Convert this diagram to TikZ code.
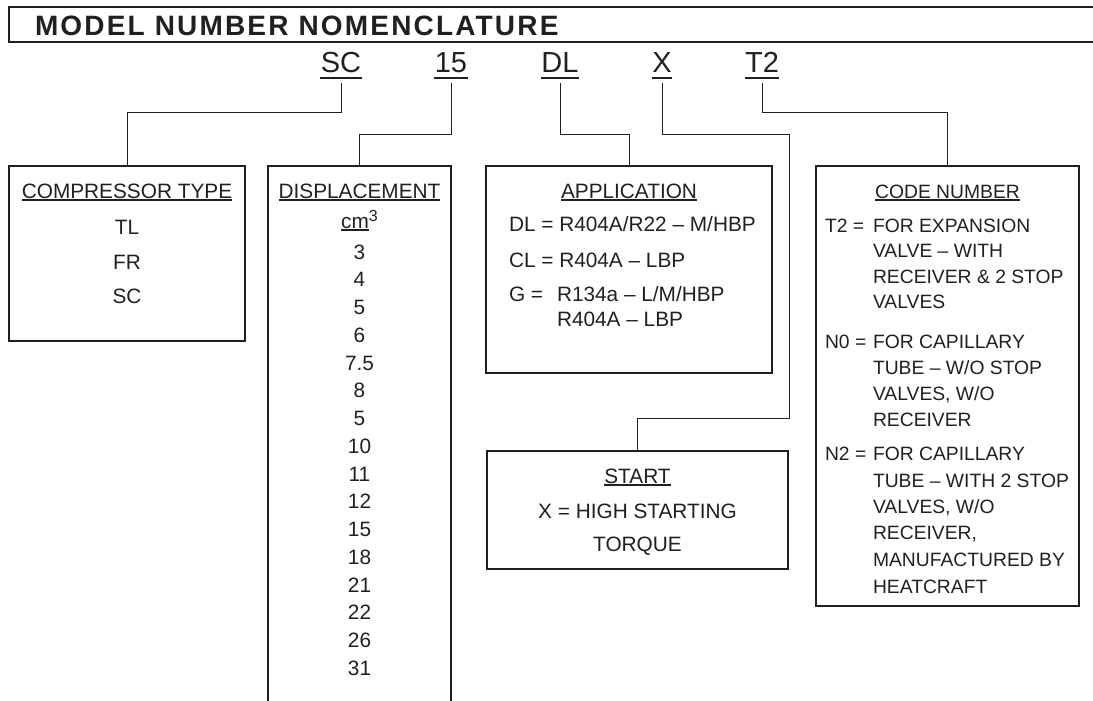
\documentclass[tikz,border=0pt]{standalone}
\usepackage{fontspec}
\setmainfont{Liberation Sans}
\definecolor{ink}{RGB}{35,31,32}
\newcommand\myul[1]{\setbox0\hbox{#1}\rlap{\rule[-2.6pt]{\wd0}{1.2pt}}\box0}
\newcommand\bigul[1]{\setbox0\hbox{\fontsize{29pt}{32pt}\selectfont #1}\rlap{\kern-0.5pt\rule[-5.7pt]{\dimexpr\wd0+1pt\relax}{1.5pt}}\box0}
\begin{document}
\begin{tikzpicture}[x=1pt,y=-1pt,
  every node/.style={text=ink, inner sep=0pt, outer sep=0pt},
  body/.style={font=\fontsize{20.8pt}{25pt}\selectfont},
  codebody/.style={font=\fontsize{19.3pt}{24pt}\selectfont},
  boxframe/.style={draw=ink, line width=1.2pt, rectangle, anchor=north west},
  link/.style={draw=ink, line width=1pt},
  codelabel/.style={anchor=base, outer ysep=4.5pt}]
\useasboundingbox (0,0) rectangle (1093,701);
% title bar
\draw[ink, line width=2pt] (1093,7) -- (9,7) -- (9,42) -- (1093,42);
\node[anchor=base west, font=\fontsize{28pt}{30pt}\selectfont\bfseries\addfontfeatures{LetterSpace=7.8}] (title) at (35,36) {MODEL NUMBER NOMENCLATURE};
% model code letters
\node[codelabel] (sc) at (341,73) {\bigul{SC}};
\node[codelabel] (n15) at (451,73) {\bigul{15}};
\node[codelabel] (dl) at (560,73) {\bigul{DL}};
\node[codelabel] (xx) at (662,73) {\bigul{X}};
\node[codelabel] (t2) at (762,73) {\bigul{T2}};
% boxes
\node[boxframe, minimum width=236pt, minimum height=175pt] (comp) at (9,166) {};
\node[rectangle, anchor=north west, minimum width=183pt, minimum height=540pt] (disp) at (268,166) {};
\draw[ink, line width=1.2pt] (disp.south west) -- (disp.north west) -- (disp.north east) -- (disp.south east);
\node[boxframe, minimum width=286pt, minimum height=207pt] (app) at (486,166) {};
\node[boxframe, minimum width=301pt, minimum height=118pt] (start) at (487,451) {};
\node[boxframe, minimum width=263pt, minimum height=440pt] (code) at (816,166) {};
% connectors
\draw[link] (sc.south) -- (sc.south |- 0,112) -| (comp.north);
\draw[link] (n15.south) -- (n15.south |- 0,134) -| (disp.north);
\draw[link] (dl.south) -- (dl.south |- 0,134) -| (app.north);
\coordinate (xa) at (789,134);
\coordinate (xb) at (789,418);
\draw[link] (xx.south) -- (xx.south |- xa) -- (xa) -- (xb) -| (start.north);
\draw[link] (t2.south) -- (t2.south |- 0,112) -| (code.north);
% compressor type
\node[body, anchor=base] (comph) at (127,198) {\myul{COMPRESSOR TYPE}};
\node[body, anchor=base] (c1) at (127,234) {TL};
\node[body, anchor=base] (c2) at (127,269) {FR};
\node[body, anchor=base] (c3) at (127,303) {SC};
% displacement
\node[body, anchor=base] (disph) at (359.5,198) {\myul{DISPLACEMENT}};
\node[body, anchor=base] (dispu) at (359.5,228) {\myul{cm}\raisebox{7pt}{\fontsize{16pt}{16pt}\selectfont 3}};
\foreach \v [count=\i from 0] in {3,4,5,6,7.5,8,5,10,11,12,15,18,21,22,26,31}
  \node[body, anchor=base] (d\i) at (359.5,{259+27.75*\i}) {\v};
% application
\node[body, anchor=base] (apph) at (629,198) {\myul{APPLICATION}};
\node[body, anchor=base west] (a1) at (509,231) {DL = R404A/R22 – M/HBP};
\node[body, anchor=base west] (a2) at (509,267) {CL = R404A – LBP};
\node[body, anchor=base west] (a3) at (509,301) {G =};
\node[body, anchor=base west] (a4) at (557,301) {R134a – L/M/HBP};
\node[body, anchor=base west] (a5) at (557,326) {R404A – LBP};
% start
\node[body, anchor=base] (sth) at (637.5,483) {\myul{START}};
\node[body, anchor=base] (st1) at (637.5,518) {X = HIGH STARTING};
\node[body, anchor=base] (st2) at (637.5,551) {TORQUE};
% code number
\node[codebody, anchor=base] (codeh) at (947.5,198) {\myul{CODE NUMBER}};
\node[codebody, anchor=base west] (k1) at (825,232) {T2 =};
\node[codebody, anchor=base west] (k2) at (825,348) {N0 =};
\node[codebody, anchor=base west] (k3) at (825,460) {N2 =};
\foreach \t/\y [count=\i] in {{FOR EXPANSION}/232, {VALVE – WITH}/257.5, {RECEIVER \& 2 STOP}/283, {VALVES}/308,
  {FOR CAPILLARY}/348, {TUBE – W/O STOP}/374, {VALVES, W/O}/400, {RECEIVER}/426,
  {FOR CAPILLARY}/460, {TUBE – WITH 2 STOP}/487, {VALVES, W/O}/513, {RECEIVER,}/539, {MANUFACTURED BY}/566, {HEATCRAFT}/593}
  \node[codebody, anchor=base west] (kt\i) at (873,\y) {\t};
\end{tikzpicture}
\end{document}
